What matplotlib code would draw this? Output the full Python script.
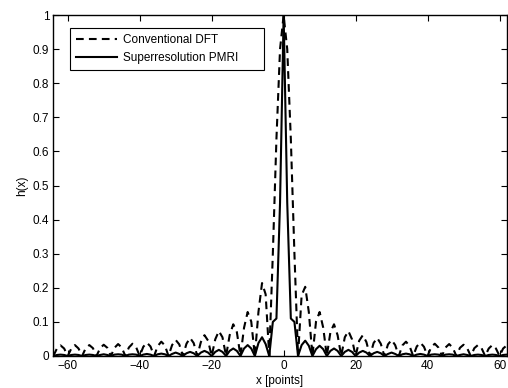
import matplotlib
matplotlib.use("Agg")
import matplotlib.pyplot as plt

# sample positions (points)
x_points = list(range(-64, 64))

# conventional DFT point spread function (x = -64 .. 63)
h_dft = [
    0.000, 0.022, 0.031, 0.022, 0.000, 0.022, 0.032, 0.022,
    0.000, 0.023, 0.032, 0.023, 0.000, 0.023, 0.033, 0.024,
    0.000, 0.024, 0.035, 0.025, 0.000, 0.025, 0.036, 0.026,
    0.000, 0.027, 0.039, 0.028, 0.000, 0.029, 0.042, 0.031,
    0.000, 0.032, 0.047, 0.034, 0.000, 0.036, 0.053, 0.038,
    0.000, 0.041, 0.061, 0.045, 0.000, 0.049, 0.073, 0.055,
    0.000, 0.061, 0.093, 0.070, 0.000, 0.083, 0.129, 0.101,
    0.000, 0.129, 0.214, 0.181, 0.000, 0.300, 0.637, 0.900,
    1.000, 0.900, 0.637, 0.300, 0.000, 0.178, 0.203, 0.129,
    0.000, 0.101, 0.129, 0.083, 0.000, 0.070, 0.093, 0.061,
    0.000, 0.055, 0.073, 0.049, 0.000, 0.045, 0.061, 0.041,
    0.000, 0.038, 0.053, 0.036, 0.000, 0.034, 0.047, 0.032,
    0.000, 0.031, 0.042, 0.029, 0.000, 0.028, 0.039, 0.027,
    0.000, 0.026, 0.036, 0.025, 0.000, 0.025, 0.035, 0.024,
    0.000, 0.024, 0.033, 0.023, 0.000, 0.023, 0.032, 0.023,
    0.000, 0.022, 0.032, 0.022, 0.000, 0.022, 0.031, 0.022,
]

# superresolution PMRI point spread function (x = -64 .. 63)
h_super = [
    0.000, 0.003, 0.004, 0.003, 0.000, 0.003, 0.004, 0.003,
    0.000, 0.003, 0.004, 0.003, 0.000, 0.003, 0.005, 0.003,
    0.000, 0.004, 0.005, 0.004, 0.000, 0.004, 0.005, 0.004,
    0.000, 0.004, 0.006, 0.004, 0.000, 0.005, 0.007, 0.005,
    0.000, 0.006, 0.010, 0.006, 0.000, 0.008, 0.012, 0.008,
    0.000, 0.010, 0.015, 0.010, 0.000, 0.012, 0.018, 0.012,
    0.000, 0.015, 0.022, 0.015, 0.000, 0.022, 0.032, 0.022,
    0.000, 0.038, 0.055, 0.035, 0.000, 0.100, 0.110, 0.450,
    1.000, 0.450, 0.110, 0.100, 0.000, 0.032, 0.045, 0.030,
    0.000, 0.020, 0.030, 0.020, 0.000, 0.015, 0.022, 0.015,
    0.000, 0.012, 0.018, 0.012, 0.000, 0.010, 0.015, 0.010,
    0.000, 0.008, 0.012, 0.008, 0.000, 0.006, 0.010, 0.006,
    0.000, 0.005, 0.007, 0.005, 0.000, 0.004, 0.006, 0.004,
    0.000, 0.004, 0.005, 0.004, 0.000, 0.004, 0.005, 0.004,
    0.000, 0.003, 0.005, 0.003, 0.000, 0.003, 0.004, 0.003,
    0.000, 0.003, 0.004, 0.003, 0.000, 0.003, 0.004, 0.003,
]

x_ticks = [-60, -40, -20, 0, 20, 40, 60]
y_ticks = [0, 0.1, 0.2, 0.3, 0.4, 0.5, 0.6, 0.7, 0.8, 0.9, 1]
y_tick_labels = ["0", "0.1", "0.2", "0.3", "0.4", "0.5", "0.6", "0.7", "0.8", "0.9", "1"]


def main() -> None:
    plt.rcParams["font.family"] = ["Liberation Sans", "DejaVu Sans"]
    plt.rcParams["font.size"] = 8.5

    fig = plt.figure(figsize=(5.08, 3.88), dpi=100)
    ax = fig.add_axes([0.105, 0.0825, 0.8925, 0.8785])

    ax.plot(x_points, h_dft, color="black", linewidth=1.5,
            linestyle=(0, (3.7, 2.5)), label="Conventional DFT")
    ax.plot(x_points, h_super, color="black", linewidth=1.5,
            label="Superresolution PMRI")

    ax.set_xlim(-64, 62)
    ax.set_ylim(0, 1)
    ax.set_xticks(x_ticks)
    ax.set_xticklabels([str(t).replace("-", "\u2212") for t in x_ticks])
    ax.set_yticks(y_ticks)
    ax.set_yticklabels(y_tick_labels)
    ax.tick_params(direction="in", length=4, width=0.8, top=True, right=True,
                   pad=3, labelsize=8.5)
    for spine in ax.spines.values():
        spine.set_linewidth(1.0)

    ax.set_xlabel("x [points]", fontsize=8.5, labelpad=2)
    ax.set_ylabel("h(x)", fontsize=8.5, labelpad=3)

    # legend box stretched to the width seen in the reference
    leg = ax.legend(loc="upper left", bbox_to_anchor=(0.037, 0.0, 0.428, 0.962),
                    mode="expand", borderaxespad=0, fancybox=False, framealpha=1,
                    edgecolor="black", handlelength=3.5, handletextpad=0.5,
                    borderpad=0.5, labelspacing=0.55, fontsize=8.5)
    leg.get_frame().set_linewidth(0.8)

    fig.savefig("out.png", dpi=100)


if __name__ == "__main__":
    main()
